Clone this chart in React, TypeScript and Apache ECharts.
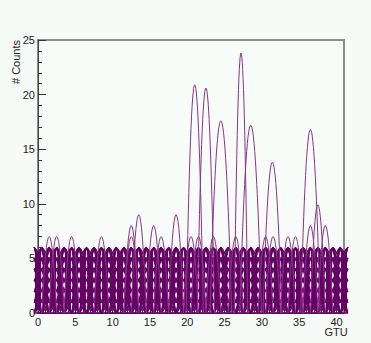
import React, { useEffect, useRef } from "react";
import * as echarts from "echarts";

// Background band: per-bin highest count of the many overlaid events (GTU bins 0..40, centre i + 0.5)
const bandTop: number[] = [
  6, 6, 6, 6, 6, 6, 6, 6, 6, 6, 6, 6, 6, 6, 6, 6, 6, 6, 6, 6, 6,
  6, 6, 6, 6, 6, 6, 6, 6, 6, 6, 6, 6, 6, 6, 6, 6, 6, 6, 6, 6,
];
// Tangent shapes of the smoothed curves between neighbouring bins
const bandTangents: number[] = [0, 0.25];

// Isolated medium arches above the band: centre (GTU) and counts
const archX: number[] = [1.5, 2.5, 4.5, 8.5, 12.5, 12.5, 13.5, 15.5, 16.5, 18.5, 20.5, 21.5, 23.5, 26.5, 30.5, 31.5, 33.5, 34.5, 36.5, 38.5];
const archH: number[] = [7, 7, 7, 7, 7, 8, 9, 8, 7, 9, 7, 7, 7, 7, 7, 7, 7, 7, 8, 8];

// Tall signal peaks: apex position (GTU), apex counts, half-width (GTU)
const peakX: number[] = [21.0, 22.5, 24.5, 27.2, 28.5, 31.4, 36.5, 37.5];
const peakH: number[] = [20.9, 20.6, 17.6, 23.8, 17.2, 13.8, 16.8, 9.9];
const peakW: number[] = [1.15, 1.15, 1.45, 0.9, 1.45, 1.25, 1.3, 1.0];

const xTickLabels: number[] = [0, 5, 10, 15, 20, 25, 30, 35, 40];
const yTickLabels: number[] = [0, 5, 10, 15, 20, 25];
const xTitle = "GTU";
const yTitle = "# Counts";

const BAND = "#640064";
const PEAK = "#8a348a";
const FONT = "Liberation Sans";

export default function App() {
  const ref = useRef<HTMLDivElement>(null);
  useEffect(() => {
    if (!ref.current) return;
    const chart = echarts.init(ref.current, null, { renderer: "svg" });

    // band segments between bin k and k+1 (k = -1 .. 40, edges clipped by the axis)
    const segs: number[][] = [];
    const topAt = (k: number) => bandTop[Math.min(Math.max(k, 0), bandTop.length - 1)];
    for (let k = -1; k < bandTop.length; k++) {
      const ta = topAt(k);
      const tb = topAt(k + 1);
      for (let a = 0; a <= ta; a++) {
        for (let b = 0; b <= tb; b++) {
          if (a === ta && b === tb) continue;
          bandTangents.forEach((m) => segs.push([k + 0.5, a, b, m]));
        }
      }
    }
    const arches: number[][] = [];
    archX.forEach((x, i) => arches.push([x, archH[i], 1]));
    peakX.forEach((x, i) => arches.push([x, peakH[i], peakW[i]]));

    chart.setOption({
      animation: false,
      backgroundColor: "#f7fbf7",
      grid: {
        left: 38,
        top: 40,
        width: 306,
        height: 273,
        containLabel: false,
        outerBoundsMode: "none",
        show: true,
        backgroundColor: "#f8fcf8",
        borderColor: "#8c8c8c",
        borderWidth: 2,
      },
      graphic: [
        {
          type: "text",
          x: 16,
          y: 40,
          rotation: Math.PI / 2,
          style: {
            text: yTitle,
            fontFamily: FONT,
            fontSize: 11,
            fill: "#222",
            align: "right",
            verticalAlign: "middle",
          },
        },
        {
          type: "text",
          x: 336,
          y: 332,
          style: {
            text: xTitle,
            fontFamily: FONT,
            fontSize: 11,
            fill: "#222",
            align: "center",
            verticalAlign: "middle",
          },
        },
      ],
      xAxis: {
        type: "value",
        min: 0,
        max: 41,
        interval: 5,
        axisLine: { show: true, lineStyle: { color: "#444", width: 1 } },
        axisTick: { show: true, inside: true, length: 8, lineStyle: { color: "#333" } },
        minorTick: { show: true, splitNumber: 5, length: 4, lineStyle: { color: "#333" } },
        splitLine: { show: false },
        axisLabel: {
          fontFamily: FONT,
          fontSize: 11,
          lineHeight: 11,
          color: "#222",
          margin: 3,
          formatter: (v: number) => (xTickLabels.includes(v) ? String(v) : ""),
        },
      },
      yAxis: {
        type: "value",
        min: 0,
        max: 25,
        interval: 5,
        axisLine: { show: true, lineStyle: { color: "#444", width: 1 } },
        axisTick: { show: true, inside: true, length: 8, lineStyle: { color: "#333" } },
        minorTick: { show: true, splitNumber: 5, length: 4, lineStyle: { color: "#333" } },
        splitLine: { show: false },
        axisLabel: {
          fontFamily: FONT,
          fontSize: 11,
          color: "#222",
          margin: 3,
          formatter: (v: number) => (yTickLabels.includes(v) ? String(v) : ""),
        },
      },
      series: [
        {
          type: "custom",
          clip: true,
          silent: true,
          data: segs,
          renderItem: (params: any, api: any) => {
            const x0 = api.value(0);
            const a = api.value(1);
            const b = api.value(2);
            const m = api.value(3) * (b - a);
            const p0 = api.coord([x0, a]);
            const p1 = api.coord([x0 + 1, b]);
            const c1 = api.coord([x0 + 1 / 3, a + m / 3]);
            const c2 = api.coord([x0 + 2 / 3, b - m / 3]);
            return {
              type: "bezierCurve",
              shape: {
                x1: p0[0], y1: p0[1], x2: p1[0], y2: p1[1],
                cpx1: c1[0], cpy1: c1[1], cpx2: c2[0], cpy2: c2[1],
              },
              style: { stroke: BAND, fill: "none", lineWidth: 1 },
            };
          },
        },
        {
          type: "custom",
          clip: true,
          silent: true,
          data: arches,
          renderItem: (params: any, api: any) => {
            const x = api.value(0);
            const h = api.value(1);
            const w = api.value(2);
            const p0 = api.coord([x - w, 0]);
            const p1 = api.coord([x + w, 0]);
            const c = api.coord([x, 2 * h]);
            return {
              type: "bezierCurve",
              shape: { x1: p0[0], y1: p0[1], x2: p1[0], y2: p1[1], cpx1: c[0], cpy1: c[1] },
              style: { stroke: PEAK, fill: "none", lineWidth: 1 },
            };
          },
        },
      ],
    });
    return () => chart.dispose();
  }, []);
  return (
    <div
      ref={ref}
      style={{ position: "absolute", left: 0, top: 0, width: 371, height: 343 }}
    />
  );
}
